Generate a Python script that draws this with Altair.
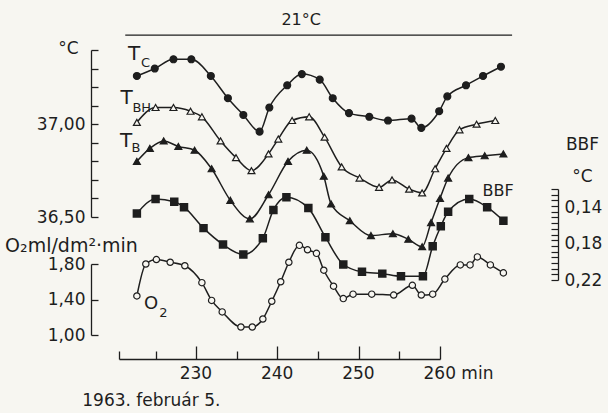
import altair as alt
import pandas as pd

# ---------------- data ----------------
tc_min = [222.7, 224.9, 227.2, 229.4, 231.8, 233.9, 235.8, 237.8, 239.0, 241.2, 243.0, 245.2,
          246.8, 248.8, 251.3, 253.6, 256.5, 257.7, 259.9, 260.9, 263.2, 265.3, 267.5]
tc_val = [37.26, 37.30, 37.35, 37.35, 37.26, 37.14, 37.05, 36.96, 37.09, 37.21, 37.27, 37.24,
          37.14, 37.06, 37.04, 37.02, 37.03, 36.98, 37.07, 37.15, 37.21, 37.26, 37.31]

tbh_min = [222.7, 225.0, 227.2, 229.3, 230.7, 233.0, 234.9, 236.8, 238.9, 240.1, 241.8, 243.9,
           245.8, 247.9, 250.1, 252.5, 254.1, 256.2, 257.8, 259.4, 260.8, 262.4, 264.5, 266.8]
tbh_val = [37.01, 37.09, 37.09, 37.07, 37.04, 36.91, 36.82, 36.75, 36.84, 36.92, 37.02, 37.04,
           36.93, 36.77, 36.71, 36.66, 36.70, 36.65, 36.63, 36.76, 36.87, 36.97, 37.00, 37.02]

tb_min = [222.7, 224.3, 226.0, 227.8, 229.8, 231.9, 234.2, 236.6, 238.9, 241.3, 243.6, 245.7,
          246.6, 248.9, 251.5, 254.2, 256.1, 257.8, 258.9, 260.0, 261.0, 263.5, 265.5, 267.8]
tb_val = [36.80, 36.87, 36.91, 36.88, 36.86, 36.76, 36.59, 36.49, 36.62, 36.80, 36.86, 36.72,
          36.57, 36.48, 36.40, 36.41, 36.38, 36.34, 36.47, 36.60, 36.71, 36.82, 36.83, 36.84]

bbf_min = [222.7, 225.0, 227.3, 228.5, 230.9, 233.3, 235.8, 238.2, 239.5, 241.1, 243.8, 245.9,
           248.1, 250.4, 252.9, 255.2, 257.9, 259.1, 260.1, 261.0, 263.6, 265.8, 267.8]
bbf_val = [0.147, 0.131, 0.134, 0.140, 0.163, 0.181, 0.192, 0.174, 0.143, 0.129, 0.141, 0.173,
           0.203, 0.211, 0.213, 0.216, 0.216, 0.183, 0.161, 0.145, 0.131, 0.140, 0.155]

o2_min = [222.7, 223.8, 225.1, 226.8, 228.6, 230.7, 231.9, 233.2, 235.5, 236.9, 238.2, 239.3,
          240.4, 241.4, 242.7, 243.7, 244.8, 245.7, 246.9, 248.1, 249.3, 251.6, 254.3, 256.6,
          257.7, 259.1, 260.6, 262.5, 263.7, 264.6, 266.2, 267.8]
o2_val = [1.44, 1.80, 1.85, 1.82, 1.78, 1.59, 1.39, 1.26, 1.09, 1.09, 1.18, 1.38,
          1.60, 1.82, 2.01, 1.96, 1.92, 1.73, 1.55, 1.41, 1.46, 1.46, 1.45, 1.56,
          1.45, 1.46, 1.63, 1.79, 1.79, 1.88, 1.79, 1.70]

# axis ticks / labels
x_ticks = [220.5, 225, 230, 235, 240, 245, 250, 255, 260]
x_labels = [230, 240, 250, 260]
c_ticks = [36.5, 36.6, 36.7, 36.8, 36.9, 37.0, 37.1, 37.2, 37.3, 37.4]
c_labels = [36.5, 37.0]
o2_ticks = [1.0, 1.4, 1.8]
bbf_ticks = [0.12, 0.12625, 0.1325, 0.13875, 0.145, 0.15125, 0.1575, 0.16375, 0.17,
             0.17625, 0.1825, 0.18875, 0.195, 0.20125, 0.2075, 0.21375, 0.22]
bbf_labels = [0.14, 0.18, 0.22]

# annotations (in data units: minutes, degC)
ann_text = ["T", "C", "T", "BH", "T", "B", "O", "2", "BBF", "21°C"]
ann_min = [222.37, 223.75, 221.45, 223.3, 221.39, 222.6, 224.46, 225.95, 267.15, 242.92]
ann_val = [37.378, 37.33, 37.14, 37.09, 36.91, 36.87, 36.03, 35.98, 36.64, 37.56]
ann_size = [20, 13, 20, 13, 20, 13, 18, 13, 16, 16]
footer = "1963. február 5."
footer_min, footer_val = 215.98, 35.51
line21_from, line21_to, line21_val = 221.27, 268.87, 37.48

# ---------------- layout ----------------
INK = "#1e1e1e"
BG = "#f7f6f1"
FONT = "DejaVu Sans"
W, H = 321, 329
LEFT_OFF = 28       # left axes sit 28px left of the plot
BBF_POS = 439       # BBF axis position inside plot coords

xs = alt.Scale(domain=[220.5, 260], nice=False, zero=False)
cs = alt.Scale(domain=[36.5, 37.4], range=[187, 20], nice=False, zero=False)
os_ = alt.Scale(domain=[1.0, 1.8], range=[305, 234], nice=False, zero=False)
bs = alt.Scale(domain=[0.12, 0.22], range=[159, 250], nice=False, zero=False)

comma = "replace(datum.label, '.', ',')"

x_tick_axis = alt.Axis(orient="top", offset=-H, values=x_ticks, labels=False, title=None,
                       grid=False, domainColor=INK, tickColor=INK, domainWidth=1.3, tickWidth=1.3,
                       tickSize={"condition": {"test": "datum.value % 10 === 0", "value": 13}, "value": 8})
x_label_axis = alt.Axis(orient="bottom", values=x_labels, domain=False, ticks=False, grid=False,
                        labelExpr="datum.value == 260 ? '260 min' : datum.label",
                        labelAlign="left", labelOffset=-17, labelPadding=6, labelFlush=False,
                        title=None)

c_tick_axis = alt.Axis(orient="right", offset=-(W + LEFT_OFF), values=c_ticks, labels=False,
                       title=None, grid=False, tickSize=7, domainColor=INK, tickColor=INK,
                       domainWidth=1.3, tickWidth=1.3)
c_label_axis = alt.Axis(orient="left", offset=LEFT_OFF, values=c_labels, format=".2f",
                        labelExpr=comma, domain=False, ticks=False, grid=False, labelPadding=6,
                        title="°C", titleAngle=0, titleX=-23, titleY=18, titleAlign="center",
                        titleBaseline="middle")
o2_tick_axis = alt.Axis(orient="right", offset=-(W + LEFT_OFF), values=o2_ticks, labels=False,
                        title=None, grid=False, tickSize=7, domainColor=INK, tickColor=INK,
                        domainWidth=1.3, tickWidth=1.3)
o2_label_axis = alt.Axis(orient="left", offset=LEFT_OFF, values=o2_ticks, format=".2f",
                         labelExpr=comma, domain=False, ticks=False, grid=False, labelPadding=6,
                         title="O₂ml/dm²·min", titleAngle=0, titleX=-20, titleY=215,
                         titleAlign="center", titleBaseline="middle", titleFontSize=19)
bbf_tick_axis = alt.Axis(orient="left", offset=-BBF_POS, values=bbf_ticks, labels=False,
                         title=None, grid=False, tickSize=7, domainColor=INK, tickColor=INK,
                         domainWidth=1.3, tickWidth=1.2)
bbf_label_axis = alt.Axis(orient="right", offset=BBF_POS - W, values=bbf_labels, format=".2f",
                          labelExpr=comma, domain=False, ticks=False, grid=False, labelPadding=6,
                          title=["BBF", "°C"], titleAngle=0, titleX=24, titleY=114,
                          titleAlign="center", titleBaseline="middle", titleLineHeight=32)

# ---------------- tables ----------------
c_df = pd.concat([
    pd.DataFrame({"series": "Tc", "minute": tc_min, "value": tc_val}),
    pd.DataFrame({"series": "TBH", "minute": tbh_min, "value": tbh_val}),
    pd.DataFrame({"series": "TB", "minute": tb_min, "value": tb_val}),
], ignore_index=True)
bbf_df = pd.DataFrame({"minute": bbf_min, "value": bbf_val})
o2_df = pd.DataFrame({"minute": o2_min, "value": o2_val})
ann_df = pd.DataFrame({"text": ann_text, "minute": ann_min, "value": ann_val, "fs": ann_size})
foot_df = pd.DataFrame({"text": [footer], "minute": [footer_min], "value": [footer_val]})
rule_df = pd.DataFrame({"x1": [line21_from], "x2": [line21_to], "value": [line21_val]})

LINE = dict(interpolate="monotone", color=INK, strokeWidth=1.5)

c_lines = alt.Chart(c_df).mark_line(**LINE).encode(
    x=alt.X("minute:Q", scale=xs, axis=x_tick_axis),
    y=alt.Y("value:Q", scale=cs, axis=c_tick_axis),
    detail="series:N",
)
c_points = alt.Chart(c_df).mark_point(filled=True, size=48, stroke=INK, strokeWidth=1.2, opacity=1).encode(
    x=alt.X("minute:Q", scale=xs, axis=x_label_axis),
    y=alt.Y("value:Q", scale=cs, axis=c_label_axis),
    shape=alt.Shape("series:N", scale=alt.Scale(domain=["Tc", "TBH", "TB"],
                                                range=["circle", "triangle-up", "triangle-up"]), legend=None),
    fill=alt.Fill("series:N", scale=alt.Scale(domain=["Tc", "TBH", "TB"], range=[INK, BG, INK]), legend=None),
)
bbf_line = alt.Chart(bbf_df).mark_line(**LINE).encode(
    x=alt.X("minute:Q", scale=xs, axis=None),
    y=alt.Y("value:Q", scale=bs, axis=bbf_tick_axis),
)
bbf_points = alt.Chart(bbf_df).mark_point(filled=True, shape="square", size=42, fill=INK,
                                           stroke=INK, opacity=1).encode(
    x=alt.X("minute:Q", scale=xs, axis=None),
    y=alt.Y("value:Q", scale=bs, axis=bbf_label_axis),
)
o2_line = alt.Chart(o2_df).mark_line(**LINE).encode(
    x=alt.X("minute:Q", scale=xs, axis=None),
    y=alt.Y("value:Q", scale=os_, axis=o2_tick_axis),
)
o2_points = alt.Chart(o2_df).mark_point(filled=True, shape="circle", size=40, fill=BG, stroke=INK,
                                         strokeWidth=1.2, opacity=1).encode(
    x=alt.X("minute:Q", scale=xs, axis=None),
    y=alt.Y("value:Q", scale=os_, axis=o2_label_axis),
)
ann = alt.Chart(ann_df).mark_text(font=FONT, color=INK, align="center", baseline="middle").encode(
    x=alt.X("minute:Q", scale=xs, axis=None),
    y=alt.Y("value:Q", scale=cs, axis=None),
    text="text:N",
    size=alt.Size("fs:Q", scale=None, legend=None),
)
foot = alt.Chart(foot_df).mark_text(font=FONT, color=INK, align="left", baseline="middle", fontSize=17).encode(
    x=alt.X("minute:Q", scale=xs, axis=None),
    y=alt.Y("value:Q", scale=cs, axis=None),
    text="text:N",
)
rule21 = alt.Chart(rule_df).mark_rule(color=INK, strokeWidth=1.4).encode(
    x=alt.X("x1:Q", scale=xs, axis=None),
    x2="x2:Q",
    y=alt.Y("value:Q", scale=cs, axis=None),
)

chart = alt.layer(
    c_lines, c_points, bbf_line, bbf_points, o2_line, o2_points, ann, foot, rule21
).resolve_scale(
    y="independent", x="shared"
).resolve_axis(
    y="independent", x="independent"
).properties(
    width=W, height=H,
    autosize=alt.AutoSizeParams(type="none"),
    padding={"left": 119, "top": 30, "right": 608 - 119 - W, "bottom": 54},
    background=BG,
).configure_view(
    stroke=None
).configure_axis(
    labelFont=FONT, labelFontSize=17, labelColor=INK,
    titleFont=FONT, titleFontSize=17, titleFontWeight="normal", titleColor=INK,
)

chart.save("out.html", embed_options={"renderer": "svg", "actions": False})
